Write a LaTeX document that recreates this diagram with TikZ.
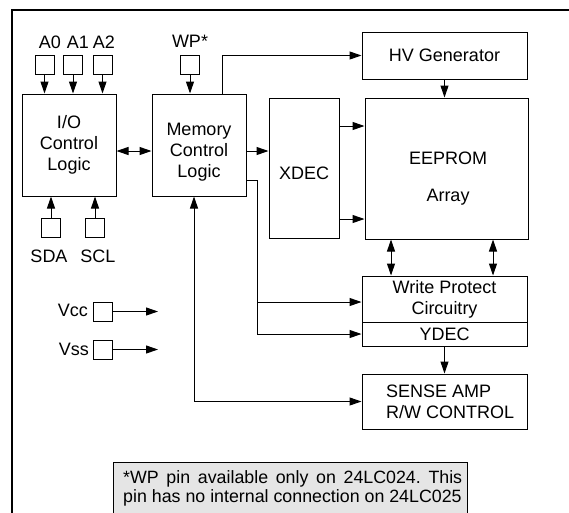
\documentclass[tikz,border=0pt]{standalone}
\usepackage{fontspec}
\setmainfont{Liberation Sans}
\usetikzlibrary{arrows.meta}
\definecolor{notegray}{RGB}{229,229,229}
\frenchspacing
\begin{document}
\begin{tikzpicture}[x=1pt,y=-1pt,
  every node/.style={font=\fontsize{18}{21}\selectfont},
  blk/.style={draw,line width=1pt,inner sep=0pt,align=center},
  pinbox/.style={draw,line width=1pt,minimum size=19pt,inner sep=0pt},
  lbl/.style={inner sep=0pt,align=center},
  wire/.style={line width=1pt},
  arr/.style={line width=1pt,-{Triangle[length=12pt,width=8pt]}},
  dbl/.style={line width=1pt,{Triangle[length=12pt,width=8pt]}-{Triangle[length=12pt,width=8pt]}}]
\useasboundingbox (0,0) rectangle (569,512);
\begin{scope}
\clip (0,0) rectangle (569,512);
% frame
\draw[line width=2.5pt] (12,520) -- (12,10) -- (580,10);
% note
\draw[wire,fill=notegray] (113,520) -- (113,462) -- (467,462) -- (467,520);
\end{scope}
\node[lbl,anchor=north west,text width=339pt,align=justify,font=\fontsize{17.8}{19}\selectfont] (note) at (123,470)
  {*WP pin available only on 24LC024. This\linebreak pin has no internal connection on 24LC025};

% blocks
\node[blk,minimum width=94pt,minimum height=102pt] (io) at (69,145) {I/O\\Control\\Logic};
\node[blk,minimum width=94pt,minimum height=102pt] (mem) at (199,145) {};
\node[lbl] (memtxt) at (199,152) {Memory\\Control\\Logic};
\node[blk,minimum width=70pt,minimum height=140pt] (xdec) at (304,168) {};
\node[lbl] (xdectxt) at (304,173) {XDEC};
\node[blk,minimum width=165pt,minimum height=47pt] (hv) at (444.5,55.5) {HV Generator};
\node[blk,minimum width=163pt,minimum height=141pt] (ee) at (446.5,168.5) {};
\node[lbl] (eetxt) at (448,178.5) {EEPROM\\[16pt]Array};
\node[blk,minimum width=165pt,minimum height=46pt] (wp) at (444.5,299) {Write Protect\\Circuitry};
\node[blk,minimum width=165pt,minimum height=24pt] (ydec) at (444.5,334) {YDEC};
\node[blk,minimum width=165pt,minimum height=55pt] (sense) at (444.5,401.5) {};
\node[lbl,align=left,anchor=west] (sensetxt) at (386,402) {SENSE AMP\\R/W CONTROL};

% pins
\node[pinbox] (a0) at (44.5,64.5) {};
\node[pinbox] (a1) at (73,64.5) {};
\node[pinbox] (a2) at (102.5,64.5) {};
\node[pinbox] (wpin) at (190,64.5) {};
\node[pinbox] (sda) at (51,228) {};
\node[pinbox] (scl) at (95,228) {};
\node[pinbox] (vcc) at (102.5,311.5) {};
\node[pinbox] (vss) at (102.5,349.5) {};

% pin labels
\node[lbl] (a0l) at (50,42.5) {A0};
\node[lbl] (a1l) at (78,42.5) {A1};
\node[lbl] (a2l) at (104,42.5) {A2};
\node[lbl] (wpl) at (190,41.5) {WP*};
\node[lbl] (sdal) at (49,256) {SDA};
\node[lbl] (scll) at (98,256) {SCL};
\node[lbl,anchor=east] (vccl) at (88,310) {Vcc};
\node[lbl,anchor=east] (vssl) at (89,349) {Vss};

% pin connections
\draw[arr] (a0.south) -- (a0.south |- io.north);
\draw[arr] (a1.south) -- (a1.south |- io.north);
\draw[arr] (a2.south) -- (a2.south |- io.north);
\draw[arr] (wpin.south) -- (wpin.south |- mem.north);
\draw[arr] (sda.north) -- (sda.north |- io.south);
\draw[arr] (scl.north) -- (scl.north |- io.south);
\coordinate (vccend) at (158,311.5);
\coordinate (vssend) at (158,349.5);
\draw[arr] (vcc.east) -- (vccend);
\draw[arr] (vss.east) -- (vssend);

% internal connections
\draw[dbl] ([yshift=-6pt]io.east) -- ([yshift=-6pt]mem.west);
\draw[arr] ([yshift=-6pt]mem.east) -- ([yshift=-6pt]mem.east -| xdec.west);
\draw[arr] ([xshift=23pt]mem.north) |- (hv.west);
\draw[arr] ([yshift=42pt]xdec.east) -- ([yshift=42pt]xdec.east -| ee.west);
\draw[arr] ([yshift=-51pt]xdec.east) -- ([yshift=-51pt]xdec.east -| ee.west);
\draw[arr] (hv.south) -- (hv.south |- ee.north);
\draw[dbl] ([xshift=-53.5pt]wp.north) -- ([xshift=-53.5pt]wp.north |- ee.south);
\draw[dbl] ([xshift=48.5pt]wp.north) -- ([xshift=48.5pt]wp.north |- ee.south);
\coordinate (bus) at (257,180);
\draw[wire] ([yshift=-35pt]mem.east) -- (bus);
\draw[arr] (bus) |- (ydec.west);
\draw[arr] (bus |- wp.west) ++(0,3) -- ([yshift=-3pt]wp.west);
\draw[arr] (ydec.south) -- (ydec.south |- sense.north);
\draw[dbl] ([xshift=-5pt]mem.south) |- (sense.west);
\end{tikzpicture}
\end{document}
